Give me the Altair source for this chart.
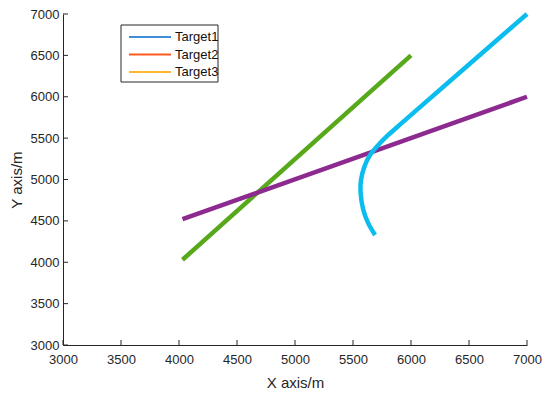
import altair as alt
import pandas as pd

# Trajectories (metres)
cyan_x = [5690, 5632, 5589, 5566, 5569, 5598, 5647, 5718, 5804, 5934, 7000]
cyan_y = [4329, 4470, 4631, 4833, 4994, 5155, 5296, 5417, 5538, 5699, 7000]

purple_x = [4030, 7000]
purple_y = [4520, 6000]

green_x = [4030, 6000]
green_y = [4030, 6500]

tick_values = [3000, 3500, 4000, 4500, 5000, 5500, 6000, 6500, 7000]
legend_names = ["Target1", "Target2", "Target3"]
legend_colors = ["#3f8fd8", "#ff5a1f", "#ffb52e"]

line_colors = ["#0bbdef", "#8c2a8f", "#58a81b"]

W, H = 464, 331
TXT = "#262626"
FONT = "Liberation Sans"

xs = alt.Scale(domain=[3000, 7000], nice=False, zero=False)
ys = alt.Scale(domain=[3000, 7000], nice=False, zero=False)

xaxis = alt.Axis(values=tick_values, format="d", ticks=False, tickSize=0, grid=False, labelPadding=8,
                 labelFlush=False, labelOverlap=False,
                 labelFontSize=13, labelColor=TXT, labelFont=FONT, domainColor=TXT,
                 title="X axis/m", titleFontSize=15, titleFont=FONT, titleColor=TXT,
                 titleFontWeight="normal", titleY=37, titleBaseline="middle")
yaxis = alt.Axis(values=tick_values, format="d", ticks=False, tickSize=0, grid=False, labelPadding=4,
                 labelFlush=False, labelOverlap=False,
                 labelFontSize=13, labelColor=TXT, labelFont=FONT, domainColor=TXT,
                 title="Y axis/m", titleFontSize=15, titleFont=FONT, titleColor=TXT,
                 titleFontWeight="normal", titleX=-47, titleY=H / 2,
                 titleBaseline="middle", titleAlign="center")


def traj(xv, yv, color):
    df = pd.DataFrame({"x": xv, "y": yv, "i": range(len(xv))})
    return alt.Chart(df).mark_line(color=color, strokeWidth=4.5, interpolate="catmull-rom").encode(
        x=alt.X("x:Q", scale=xs, axis=xaxis),
        y=alt.Y("y:Q", scale=ys, axis=yaxis),
        order="i:Q",
    )

base_axes = alt.Chart(pd.DataFrame({"v": tick_values})).mark_point(opacity=0).encode(
    x=alt.X("v:Q", scale=xs, axis=xaxis), y=alt.Y("v:Q", scale=ys, axis=yaxis))

ticks_df = pd.DataFrame({"v": tick_values})
xticks = alt.Chart(ticks_df).mark_rule(color=TXT, strokeWidth=1).encode(
    x=alt.X("v:Q", scale=xs), y=alt.value(H), y2=alt.value(H - 5))
yticks = alt.Chart(ticks_df).mark_rule(color=TXT, strokeWidth=1).encode(
    y=alt.Y("v:Q", scale=ys), x=alt.value(0), x2=alt.value(5))

leg_df = pd.DataFrame({"name": legend_names, "color": legend_colors, "k": range(3)})
leg_box = alt.Chart(pd.DataFrame({"a": [0]})).mark_rect(fill="white", stroke=TXT, strokeWidth=1).encode(
    x=alt.value(58), x2=alt.value(155), y=alt.value(11), y2=alt.value(68))
leg_base = alt.Chart(leg_df).transform_calculate(ly="23 + datum.k * 17.5")
leg_lines = leg_base.mark_rule(strokeWidth=2).encode(
    x=alt.value(66), x2=alt.value(108), y=alt.Y("ly:Q", scale=None),
    color=alt.Color("color:N", scale=None))
leg_text = leg_base.mark_text(align="left", baseline="middle", fontSize=13, font=FONT, color="#111111").encode(
    x=alt.value(112), y=alt.Y("ly:Q", scale=None), text="name:N")

chart = alt.layer(
    base_axes,
    traj(green_x, green_y, line_colors[2]),
    traj(purple_x, purple_y, line_colors[1]),
    traj(cyan_x, cyan_y, line_colors[0]),
    xticks, yticks,
    leg_box, leg_lines, leg_text,
).properties(
    width=W, height=H,
    autosize=alt.AutoSizeParams(type="none"),
    padding={"left": 55, "top": 6, "right": 15, "bottom": 45},
).configure_view(stroke=None).configure_axis(domainWidth=1)

chart.save("out.html", embed_options={"renderer": "svg", "actions": False})
